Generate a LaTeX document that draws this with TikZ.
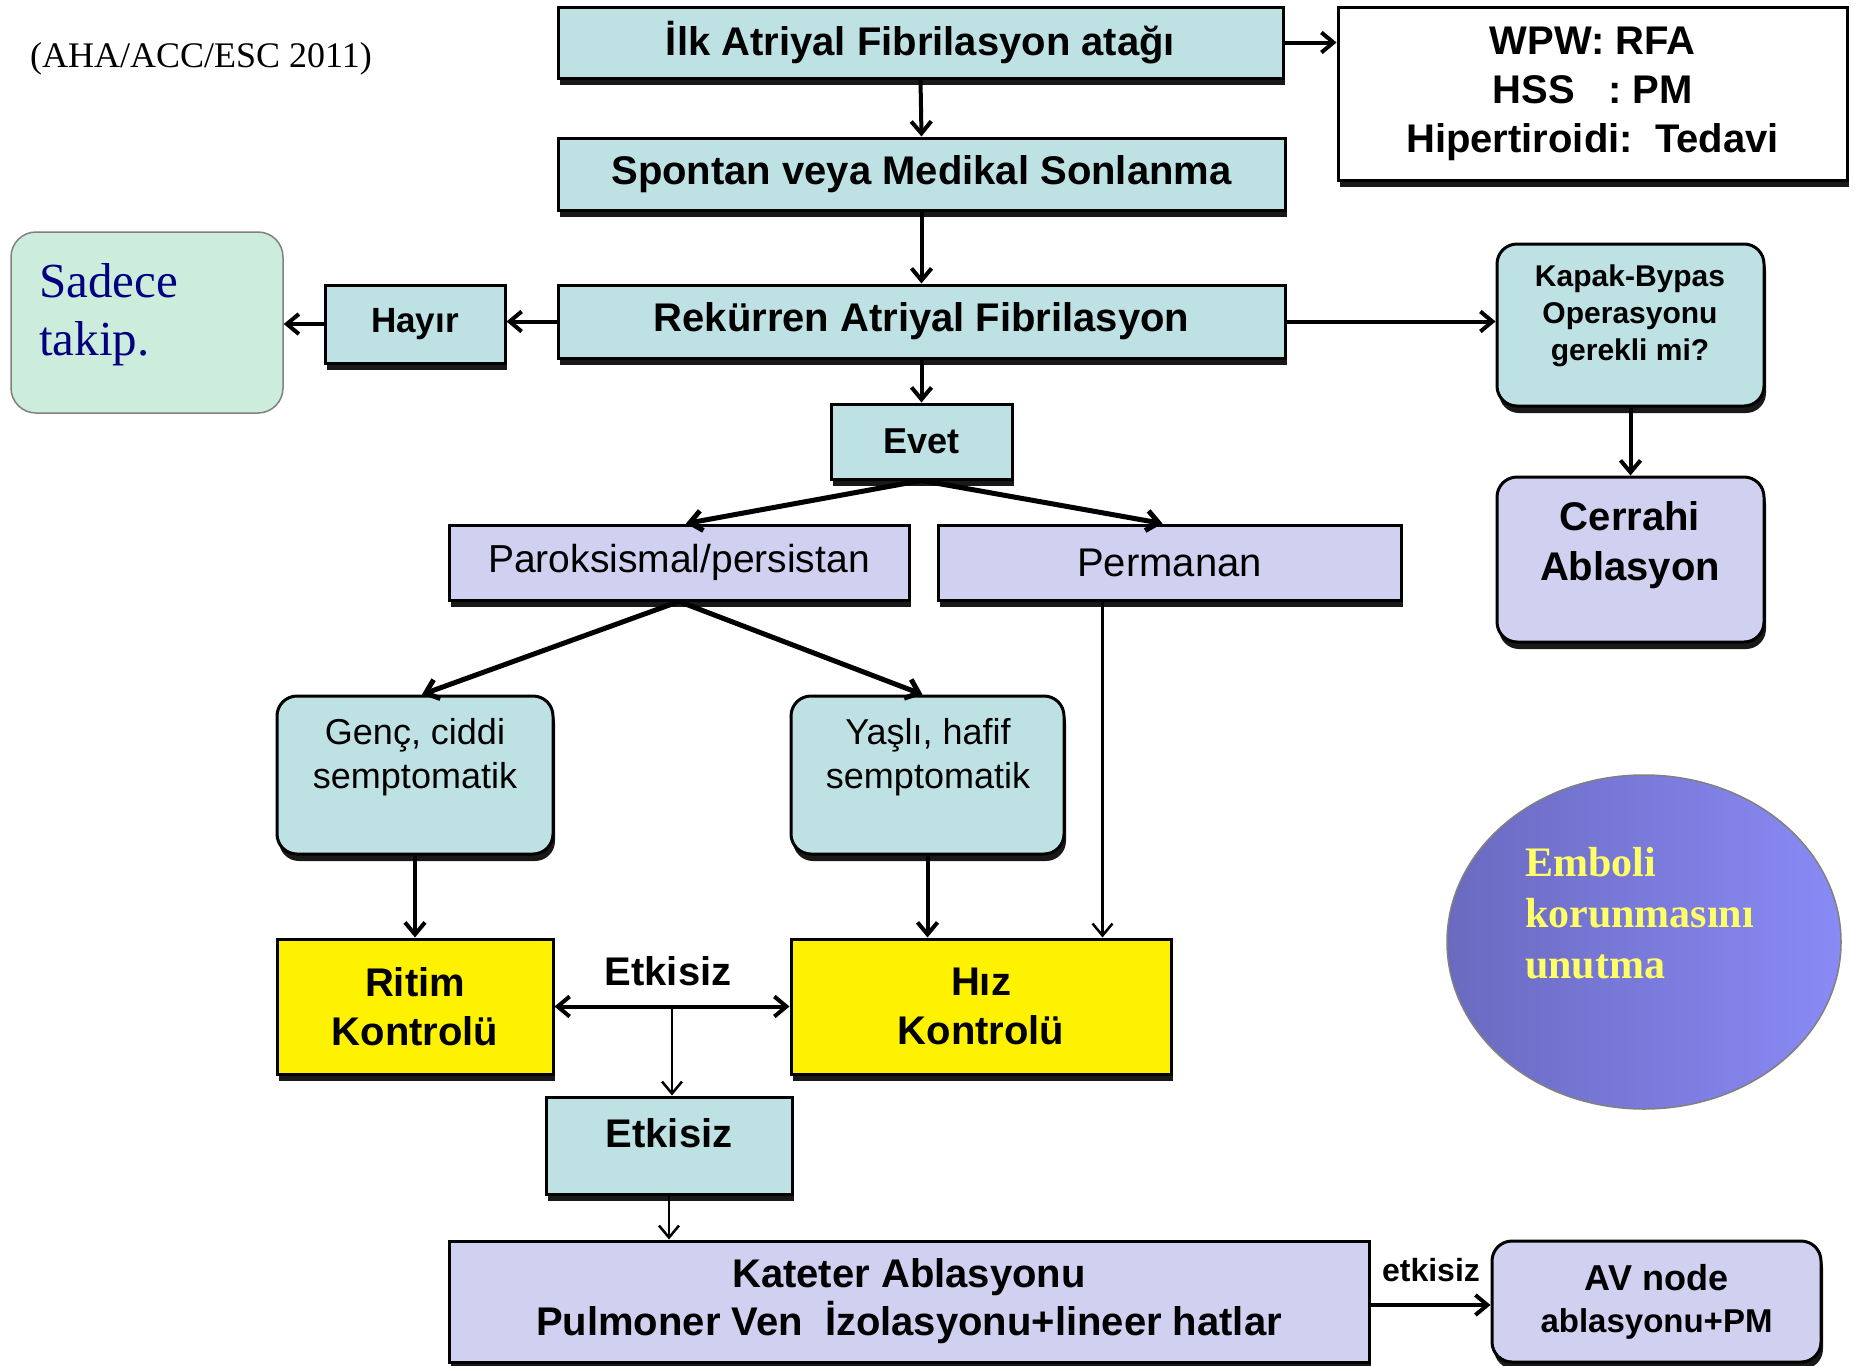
\documentclass[tikz,border=0pt]{standalone}
\usepackage{fontspec}
\setmainfont{Liberation Sans}
\newfontfamily\tnr{Liberation Serif}
\usetikzlibrary{arrows.meta,shadows,shapes.geometric,calc}
\definecolor{tealc}{HTML}{BEE2E4}
\definecolor{lavc}{HTML}{D0D0F0}
\definecolor{sadc}{HTML}{CCEDDC}
\definecolor{navyc}{HTML}{000080}
\definecolor{embY}{HTML}{FFFF66}
\definecolor{ellL}{HTML}{6A6AC0}
\definecolor{ellR}{HTML}{8A8AF6}
\newcommand\fs[2]{\fontsize{#1}{#2}\selectfont}
\begin{document}
\begin{tikzpicture}[x=1pt,y=-1pt,
 box/.style={draw=black, line width=3pt, inner sep=0pt, align=center,
   general shadow={fill=black!90, shadow xshift=2pt, shadow yshift=-7pt}},
 tealbox/.style={box, fill=tealc},
 lavbox/.style={box, fill=lavc},
 yelbox/.style={box, fill=yellow},
 rnd/.style={rounded corners=20pt},
 bf/.style={font=\bfseries\fs{40}{49}},
 rg/.style={font=\fs{40}{49}},
 txt/.style={inner sep=0pt, align=center},
 arr/.style={line width=4pt, -{Straight Barb[length=12pt,width=20pt]}},
 darr/.style={line width=5pt, -{Straight Barb[length=12pt,width=20pt]}},
 tarr/.style={line width=2.5pt, -{Straight Barb[length=12pt,width=20pt]}},
 dbl/.style={line width=4pt, {Straight Barb[length=12pt,width=20pt]}-{Straight Barb[length=12pt,width=20pt]}},
]
\useasboundingbox (0,0) rectangle (1854,1365);

% text top-left
\node[txt, anchor=base west, font=\tnr\fs{36}{40}] (aha) at (30,67) {(AHA/ACC/ESC 2011)};

% top chain
\node[tealbox, bf, minimum width=725, minimum height=71] (b1) at (920.5,42.5) {İlk Atriyal Fibrilasyon atağı};
\node[box, fill=white, bf, minimum width=509, minimum height=173] (wpw) at (1592.5,93.5) {WPW: RFA\\HSS\ \ \ : PM\\Hipertiroidi:\ \ Tedavi};
\node[tealbox, bf, minimum width=727, minimum height=72] (b2) at (921.5,174) {Spontan veya Medikal Sonlanma};
\node[tealbox, bf, minimum width=727, minimum height=73] (b3) at (921.5,321.5) {Rekürren Atriyal Fibrilasyon};
\node[tealbox, font=\bfseries\fs{35}{40}, minimum width=180, minimum height=78] (hayir) at (415,324) {Hayır};

\node[draw=gray, line width=1.5pt, fill=sadc, rounded corners=25pt, minimum width=272, minimum height=181, inner sep=0pt] (sad) at (147,322.5) {};
\node[txt, anchor=north west, align=left, text=navyc, font=\tnr\fs{49}{58}] (sadt) at (39,263) {Sadece\\takip.};

\node[tealbox, rnd, minimum width=267, minimum height=162] (kap) at (1630.5,325) {};
\node[txt, font=\bfseries\fs{30}{37}] (kapt) at (1630,316) {Kapak-Bypas\\Operasyonu\\gerekli mi?};
\node[lavbox, rnd, minimum width=267, minimum height=165] (cer) at (1630.5,559.5) {};
\node[txt, font=\bfseries\fs{40}{50}] (cert) at (1630,545) {Cerrahi\\Ablasyon};

\node[tealbox, font=\bfseries\fs{36}{40}, minimum width=181, minimum height=75] (evet) at (921.5,441.5) {Evet};
\node[lavbox, font=\fs{39}{45}, minimum width=460, minimum height=75] (par) at (679,562.5) {Paroksismal/persistan};
\node[lavbox, rg, minimum width=463, minimum height=75] (perm) at (1169.5,562.5) {Permanan};

\node[tealbox, rnd, minimum width=276, minimum height=158] (genc) at (415,775) {};
\node[txt, font=\fs{36}{44}] (genct) at (415,757) {Genç, ciddi\\semptomatik};
\node[tealbox, rnd, minimum width=273, minimum height=158] (yas) at (927.5,775) {};
\node[txt, font=\fs{36}{44}] (yast) at (928,757) {Yaşlı, hafif\\semptomatik};

\node[yelbox, bf, minimum width=276, minimum height=135] (rit) at (415,1006.5) {Ritim\\Kontrolü};
\node[yelbox, bf, minimum width=380, minimum height=135] (hiz) at (981,1006.5) {Hız\\Kontrolü};
\node[txt, bf] (etl) at (668,971) {Etkisiz};

\node[tealbox, minimum width=246, minimum height=97] (etk) at (669,1145.5) {};
\node[txt, bf] (etkt) at (669,1133) {Etkisiz};

\node[lavbox, font=\bfseries\fs{40}{48}, minimum width=920, minimum height=121] (kat) at (909,1301.5) {Kateter Ablasyonu\\Pulmoner Ven\ \ İzolasyonu+lineer hatlar};
\node[txt, fill=white, font=\bfseries\fs{32}{36}, minimum width=118, minimum height=62] (etks) at (1431,1270) {etkisiz};
\node[lavbox, rnd, font=\bfseries\fs{36}{42}, minimum width=329, minimum height=121] (av) at (1656.5,1301.5) {AV node\\{\fs{33}{42}ablasyonu+PM}};

% ellipse
\node[ellipse, draw=gray, line width=1.5pt, left color=ellL, right color=ellR, minimum width=394, minimum height=334, inner sep=0pt] (ell) at (1644,942) {};
\node[txt, anchor=north west, align=left, text=embY, font=\tnr\bfseries\fs{42}{51}] (embt) at (1525,847) {Emboli\\korunmasını\\unutma};

% connectors
\draw[arr] (b1.south) -- (b2.north);
\draw[arr] (b1.east) -- (b1.east -| wpw.west);
\draw[arr] (b2.south) -- (b3.north);
\draw[arr] (b3.west) -- (b3.west -| hayir.east);
\draw[arr] (hayir.west) -- (hayir.west -| sad.east);
\draw[arr] (b3.east) -- (b3.east -| kap.west);
\draw[arr] (kap.south) -- (cer.north);
\draw[arr] (b3.south) -- (evet.north);
\draw[darr] (evet.south) -- ([xshift=7pt]par.north);
\draw[darr] (evet.south) -- ([xshift=-7pt]perm.north);
\draw[darr] (par.south) -- ([xshift=7pt]genc.north);
\draw[darr] (par.south) -- ([xshift=-5pt]yas.north);
\draw[tarr] ([xshift=-67pt]perm.south) -- ([xshift=-67pt]perm.south |- hiz.north);
\draw[arr] (genc.south) -- (rit.north);
\draw[arr] (yas.south) -- (yas.south |- hiz.north);
\draw[dbl] (rit.east) -- (rit.east -| hiz.west);
\coordinate (mid) at ($(rit.east)!0.5!(rit.east -| hiz.west)$);
\draw[tarr] (mid) -- (mid |- etk.north);
\draw[tarr] (etk.south) -- (etk.south |- kat.north);
\draw[arr] ([yshift=-3.5pt]kat.east) -- ([yshift=-3.5pt]kat.east -| av.west);
\end{tikzpicture}
\end{document}
